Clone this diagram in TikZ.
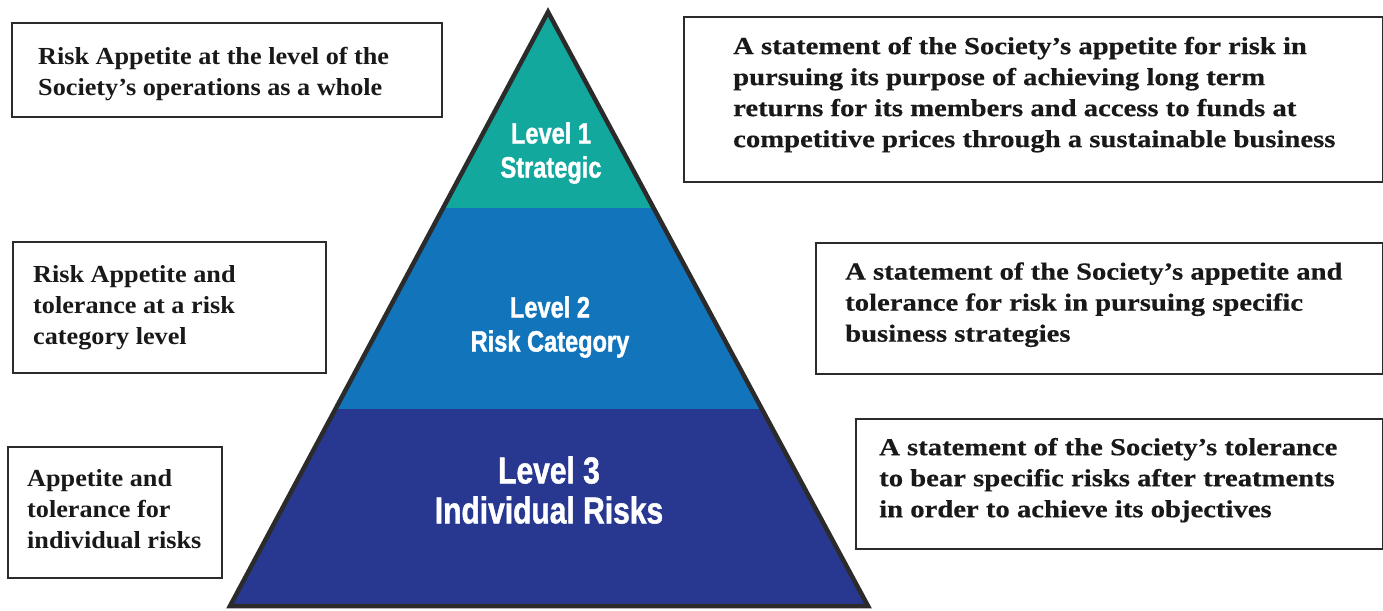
\documentclass[tikz,border=0pt]{standalone}
\usepackage{fontspec}
\setmainfont{Liberation Serif}
\newfontfamily\leftserif[FakeStretch=1.07]{Liberation Serif}
\newfontfamily\rightserif[FakeStretch=1.17,FakeBold=0.4]{Liberation Serif}
\newfontfamily\condfont[FakeStretch=0.8,FakeBold=1.2]{Liberation Sans}
\definecolor{lvlone}{HTML}{13A89E}
\definecolor{lvltwo}{HTML}{1275BC}
\definecolor{lvlthree}{HTML}{283891}
\definecolor{edge}{HTML}{2B2B2B}
\begin{document}
\begin{tikzpicture}[x=1pt,y=-1pt,
  panel/.style={draw=edge, line width=2.4pt, fill=white, rectangle, inner sep=0pt},
  desc/.style={align=left, inner sep=0pt, text=black!90},
  descl/.style={desc, font=\leftserif\bfseries\fontsize{24.5}{31}\selectfont},
  descr/.style={desc, font=\rightserif\bfseries\fontsize{24.5}{31}\selectfont},
  lvltext/.style={align=center, inner sep=0pt, text=white, font=\condfont\bfseries\fontsize{29.5}{34}\selectfont},
  lvlbig/.style={lvltext, font=\condfont\bfseries\fontsize{37.5}{40}\selectfont}]
\useasboundingbox (0,0) rectangle (1383,610);

% pyramid corners
\coordinate (apex) at (548,12);
\coordinate (bl) at (230,606);
\coordinate (br) at (868,606);

% coloured bands clipped to the triangle
\begin{scope}
  \clip (apex) -- (br) -- (bl) -- cycle;
  \fill[lvlone] (200,0) rectangle (900,208);
  \fill[lvltwo] (200,208) rectangle (900,409);
  \fill[lvlthree] (200,409) rectangle (900,610);
\end{scope}
\draw[edge, line width=4.5pt, line join=miter] (apex) -- (br) -- (bl) -- cycle;

% level captions
\node[lvltext] (l1) at (551,153) {Level 1\\Strategic};
\node[lvltext] (l2) at (550,327) {Level 2\\Risk Category};
\node[lvlbig] (l3) at (549,490) {Level 3\\Individual Risks};

% left-hand boxes
\node[panel, anchor=north west, minimum width=430pt, minimum height=94pt] (tl) at (11,22) {};
\node[descl, anchor=west] (tlt) at ([xshift=27pt,yshift=-4pt]tl.west)
  {Risk Appetite at the level of the\\Society’s operations as a whole};

\node[panel, anchor=north west, minimum width=313pt, minimum height=131pt] (ml) at (12,241) {};
\node[descl, anchor=west] (mlt) at ([xshift=21pt,yshift=0pt]ml.west)
  {Risk Appetite and\\tolerance at a risk\\category level};

\node[panel, anchor=north west, minimum width=214pt, minimum height=131pt] (bl) at (7,446) {};
\node[descl, anchor=west] (blt) at ([xshift=20pt,yshift=4pt]bl.west)
  {Appetite and\\tolerance for\\individual risks};

% right-hand boxes
\node[panel, anchor=north west, minimum width=699pt, minimum height=165pt] (tr) at (683,16) {};
\node[descr, anchor=west] (trt) at ([xshift=50pt,yshift=5pt]tr.west)
  {A statement of the Society’s appetite for risk in\\pursuing its purpose of achieving long term\\returns for its members and access to funds at\\competitive prices through a sustainable business};

\node[panel, anchor=north west, minimum width=567pt, minimum height=131pt] (mr) at (815,242) {};
\node[descr, anchor=west] (mrt) at ([xshift=30pt,yshift=4pt]mr.west)
  {A statement of the Society’s appetite and\\tolerance for risk in pursuing specific\\business strategies};

\node[panel, anchor=north west, minimum width=527pt, minimum height=130pt] (brb) at (855,418) {};
\node[descr, anchor=west] (brt) at ([xshift=24pt,yshift=4pt]brb.west)
  {A statement of the Society’s tolerance\\to bear specific risks after treatments\\in order to achieve its objectives};
\end{tikzpicture}
\end{document}
